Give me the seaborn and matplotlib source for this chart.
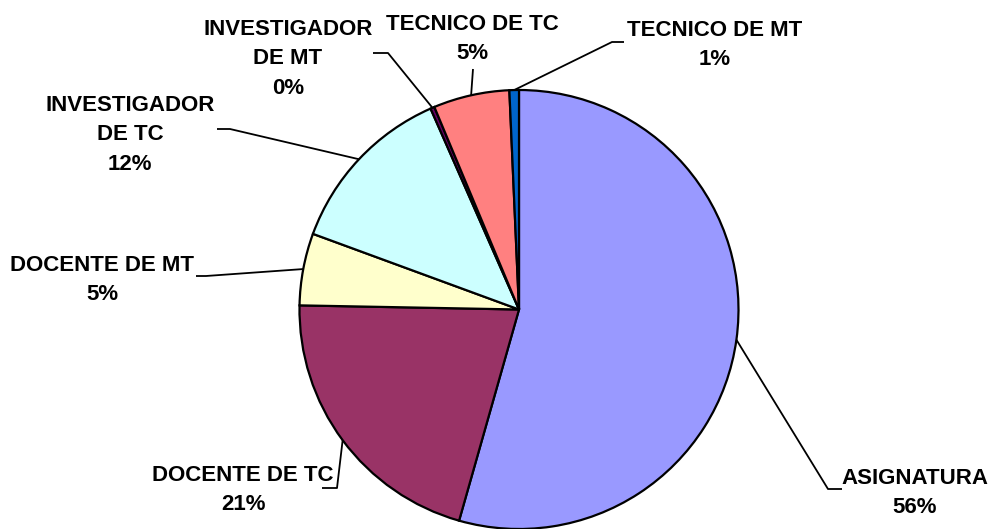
import numpy as np
import seaborn as sns
import matplotlib.pyplot as plt

W, H = 995, 529

categories = ['ASIGNATURA', 'DOCENTE DE TC', 'DOCENTE DE MT', 'INVESTIGADOR DE TC',
              'INVESTIGADOR DE MT', 'TECNICO DE TC', 'TECNICO DE MT']
values = [54.4, 20.9, 5.3, 12.8, 0.3, 5.6, 0.7]
pct_labels = ['56%', '21%', '5%', '12%', '0%', '5%', '1%']
label_lines = [['ASIGNATURA'], ['DOCENTE DE TC'], ['DOCENTE DE MT'],
               ['INVESTIGADOR', 'DE TC'], ['INVESTIGADOR', 'DE MT'],
               ['TECNICO DE TC'], ['TECNICO DE MT']]
colors = ['#9999FF', '#993366', '#FFFFCC', '#CCFFFF', '#660066', '#FF8080', '#0066CC']

# label layout in pixels: text centre x, first line cap centre y, elbow, leader end
layout = {
    'ASIGNATURA':         ((915, 476), (828, 489), (842, 489)),
    'DOCENTE DE TC':      ((243, 473), (337, 488), (322, 488)),
    'DOCENTE DE MT':      ((102, 263), (206, 276), (196, 276)),
    'INVESTIGADOR DE TC': ((130, 103), (230, 129), (217, 129)),
    'INVESTIGADOR DE MT': ((288, 27), (388, 53), (373, 53)),
    'TECNICO DE TC':      ((472, 22), (473, 69), (473, 69)),
    'TECNICO DE MT':      ((715, 28), (612, 42), (624, 42)),
}

sns.set_theme(style='white')
plt.rcParams['font.family'] = ['Liberation Sans', 'DejaVu Sans']

fig = plt.figure(figsize=(W / 100, H / 100), dpi=100)
ax = fig.add_axes([0, 0, 1, 1])

center = (519, H - 309.5)
radius = 219.5
wedges, _ = ax.pie(values, colors=sns.color_palette(colors), startangle=90,
                   counterclock=False, center=center, radius=radius,
                   wedgeprops=dict(edgecolor='black', linewidth=1.6))
ax.set_xlim(0, W)
ax.set_ylim(0, H)
ax.set_aspect('auto')
ax.axis('off')

fs = 16
line_gap = 29.5
cap = 0.716 * fs * 100 / 72

for w, cat, lines, pct in zip(wedges, categories, label_lines, pct_labels):
    (tx, ty), elbow, end = layout[cat]
    mid = np.deg2rad((w.theta1 + w.theta2) / 2)
    sx = center[0] + radius * np.cos(mid)
    sy = center[1] + radius * np.sin(mid)
    ax.plot([sx, elbow[0], end[0]], [sy, H - elbow[1], H - end[1]],
            color='black', lw=1.3, solid_capstyle='butt')
    for i, txt in enumerate(lines + [pct]):
        ax.text(tx, H - (ty + i * line_gap + cap / 2), txt, ha='center', va='baseline',
                fontsize=fs, fontweight='bold', color='black')

fig.savefig('out.png', dpi=100)
